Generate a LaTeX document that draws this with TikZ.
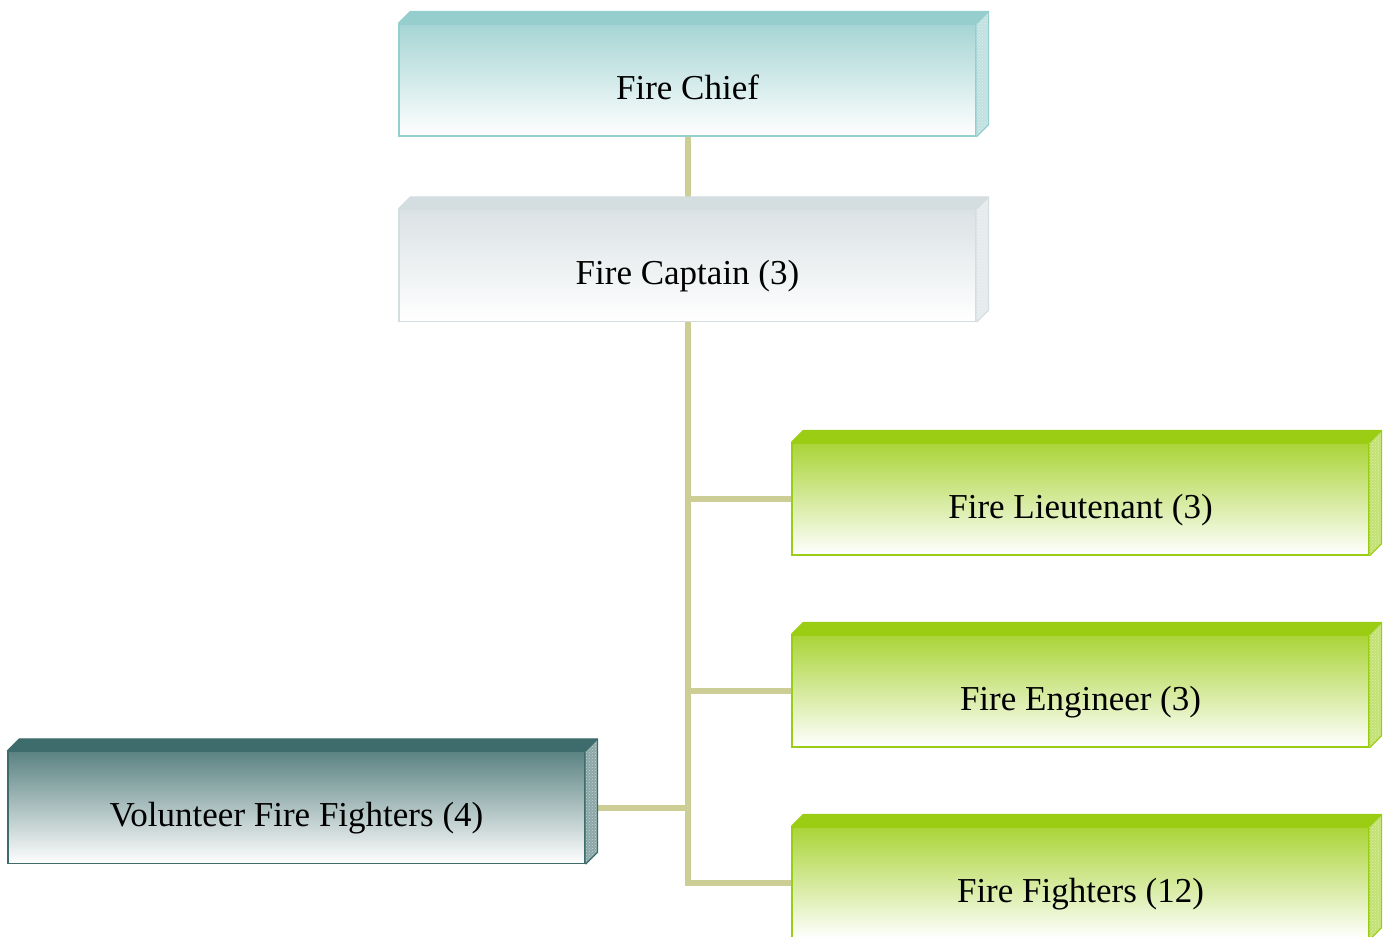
\documentclass[tikz,border=0pt]{standalone}
\usepackage{fontspec}
\setmainfont{Liberation Serif}
\usetikzlibrary{backgrounds,patterns,calc}
\definecolor{chiefcol}{RGB}{150,205,205}
\definecolor{captcol}{RGB}{212,221,224}
\definecolor{greencol}{RGB}{155,205,20}
\definecolor{volcol}{RGB}{62,108,108}
\definecolor{linkcol}{RGB}{205,205,150}

\begin{document}
\begin{tikzpicture}[x=1pt,y=-1pt,
  rank/.style={rectangle,draw=#1,line width=1.2pt,inner sep=0pt,
    minimum width=577pt,minimum height=112pt,
    top color=#1!85!white,middle color=#1!38!white,bottom color=white,
    font=\fontsize{35pt}{40pt}\selectfont,text height=46pt,text depth=8pt},
  link/.style={draw=linkcol,line width=6pt,line join=miter}]
\useasboundingbox (0,0) rectangle (1387,937);
\node[rank=chiefcol] (chief) at (687.5,80) {Fire Chief};
\node[rank=captcol] (captain) at (687.5,265.5) {Fire Captain (3)};
\node[rank=greencol] (lieut) at (1080.5,499) {Fire Lieutenant (3)};
\node[rank=greencol] (engin) at (1080.5,691) {Fire Engineer (3)};
\node[rank=greencol] (fight) at (1080.5,883) {Fire Fighters (12)};
\node[rank=volcol] (volun) at (296.5,807.5) {Volunteer Fire Fighters (4)};
% the 3d edges
\foreach \n/\c in {chief/chiefcol,captain/captcol,lieut/greencol,engin/greencol,fight/greencol,volun/volcol} {
  \fill[\c] (\n.north west) -- ++(12,-12) -- ($(\n.north east)+(12,-12)$) -- (\n.north east) -- cycle;
  \fill[\c!60!white] (\n.north east) -- ++(12,-12) -- ($(\n.south east)+(12,-12)$) -- (\n.south east) -- cycle;
  \fill[pattern=crosshatch dots,pattern color=white!70!\c] (\n.north east) -- ++(12,-12) -- ($(\n.south east)+(12,-12)$) -- (\n.south east) -- cycle;
  \draw[\c,line width=1.2pt,line join=round] (\n.north west) -- ++(12,-12) -- ($(\n.north east)+(12,-12)$) -- ($(\n.south east)+(12,-12)$) -- (\n.south east);
  \draw[\c,line width=1.2pt] (\n.north east) -- ++(12,-12);
}
% connectors
\begin{scope}[on background layer]
\draw[link] (chief.south) -- (captain.north);
\draw[link] (captain.south) |- (fight.west);
\draw[link] (captain.south |- lieut.west) -- (lieut.west);
\draw[link] (captain.south |- engin.west) -- (engin.west);
\draw[link] (volun.east) -- (captain.south |- volun.east);
\end{scope}
\end{tikzpicture}
\end{document}
